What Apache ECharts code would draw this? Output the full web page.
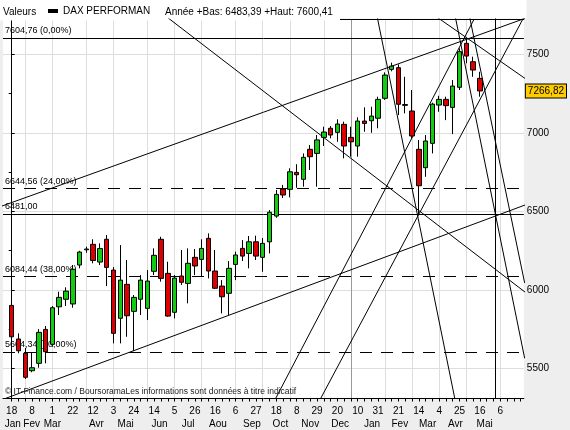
<!DOCTYPE html>
<html>
<head>
<meta charset="utf-8">
<script src="https://cdn.jsdelivr.net/npm/echarts@6/dist/echarts.min.js"></script>
<style>
html, body { margin: 0; padding: 0; background: #eeeeee; }
#chart { width: 570px; height: 430px; }
</style>
</head>
<body>
<div id="chart"></div>
<script>
// bougies hebdo, index 0 = semaine du 18 janv. 2010
const opens  = [5901, 5687, 5596, 5485, 5532, 5748, 5653, 5892, 5940, 5910,
                6158, 6255, 6290, 6177, 6322, 6126, 5819, 6035, 5863, 5940,
                5882, 6118, 6322, 6105, 5857, 6088, 6041, 6207, 6194, 6328,
                6120, 6024, 5978, 6162, 6264, 6232, 6306, 6207, 6306, 6470,
                6642, 6640, 6748, 6704, 6895, 6869, 6971, 7029, 7003, 7054,
                6971, 6916, 7075, 7077, 7093, 7220, 7404, 7415, 7180, 7139,
                6895, 6778, 6933, 7177, 7213, 7162, 7290, 7570, 7453, 7347];
const closes = [5701, 5612, 5443, 5504, 5729, 5606, 5886, 5952, 5992, 6131,
                6241, 6260, 6187, 6263, 6143, 5723, 6062, 5835, 5952, 6062,
                6056, 6220, 6073, 5833, 6075, 6048, 6169, 6152, 6264, 6120,
                6010, 5956, 6137, 6222, 6215, 6306, 6215, 6296, 6494, 6608,
                6604, 6752, 6733, 6844, 6848, 6955, 7005, 6986, 7056, 6916,
                6943, 7075, 7060, 7107, 7213, 7368, 7425, 7182, 7175, 6980,
                6663, 6948, 7183, 7213, 7173, 7298, 7517, 7489, 7400, 7266.82];
const lows   = [5680, 5596, 5432, 5475, 5504, 5532, 5638, 5840, 5897, 5886,
                6137, 6236, 6169, 6158, 6024, 5659, 5659, 5701, 5610, 5840,
                5808, 6094, 6052, 5829, 5818, 6031, 5914, 6094, 6084, 6073,
                6005, 5850, 5840, 6062, 6184, 6137, 6190, 6115, 6232, 6459,
                6585, 6589, 6650, 6657, 6763, 6657, 6916, 6965, 6943, 6838,
                6848, 6848, 7007, 7000, 7029, 7210, 7392, 7113, 7124, 6965,
                6483.39, 6720, 6869, 7134, 7081, 6992, 7273, 7443, 7357, 7230];
const highs  = [6003, 5723, 5630, 5602, 5750, 5770, 5897, 5988, 6016, 6158,
                6249, 6275, 6322, 6296, 6349, 6145, 6285, 6190, 5967, 6094,
                6126, 6264, 6338, 6179, 6094, 6254, 6264, 6260, 6322, 6360,
                6254, 6062, 6183, 6243, 6317, 6343, 6345, 6330, 6508, 6636,
                6668, 6774, 6800, 6869, 6922, 6986, 7039, 7043, 7086, 7071,
                7039, 7099, 7162, 7166, 7230, 7385, 7447, 7436, 7357, 7273,
                6954, 6986, 7192, 7236, 7230, 7336, 7538, 7600.41, 7485, 7389];

// axe des dates
const dayTicks   = [0, 3, 6, 9, 12, 15, 18, 21, 24, 27, 30, 33, 36, 39, 42, 45, 48, 51, 54, 57, 60, 63, 66, 69, 72];
const dayLabels  = ['18', '8', '1', '22', '12', '3', '24', '14', '5', '26', '16', '6', '27',
                    '18', '8', '29', '20', '10', '31', '21', '14', '4', '25', '16', '6'];
const monthPos   = [0.15, 2.95, 6, 12.5, 16.8, 21.8, 26, 30.4, 35.4, 39.6, 44, 48.4, 53.1, 57.2, 61.3, 65.4, 69.7];
const monthNames = ['Jan', 'Fev', 'Mar', 'Avr', 'Mai', 'Jun', 'Jul', 'Aou', 'Sep', 'Oct', 'Nov', 'Dec',
                    'Jan', 'Fev', 'Mar', 'Avr', 'Mai'];
const monthGrid  = [2, 6, 11, 15, 20, 24, 28, 33, 37, 41, 46, 55, 59, 63, 67, 72];
const yearGrid   = [50];
const yLabels    = [5500, 6000, 6500, 7000, 7500];
const yMinor     = [5750, 6250, 6750, 7250];

// niveaux de Fibonacci
const fibLevels = [7604.76, 6644.56, 6481.00, 6084.44, 5604.34];
const fibNames  = ['7604,76 (0,00%)', '6644,56 (24,00%)', '6481,00', '6084,44 (38,00%)', '5604,34 (50,00%)'];
const lastClose = 7266.82;

// droites tracées : [semaine1, valeur1, semaine2, valeur2]
const trendLines = [
    [-2, 6525, 77, 7750],
    [-2, 5291, 77, 6562],
    [20, 7833, 77, 5941],
    [53.5, 7816, 65.5, 5266],
    [38.5, 5275, 68.16, 7725],
    [45.3, 5289, 75.6, 7746],
    [65.2, 7776, 75.6, 5564],
    [67.3, 7777, 75.6, 6044],
    [62.5, 7742, 76, 7336],
    [71.2, 5200, 71.2, 7800]
];

const FONT = 'Liberation Sans';
const txt = { fontFamily: FONT, fontSize: 10, color: '#000' };
const kMin = -1.28, kMax = 75.48;
const vMin = 5308, vMax = 7725;

const candles = opens.map((o, i) => [i, o, closes[i], lows[i], highs[i]]);
const dashedFib = [false, true, false, true, true];
const fmtFr = v => v.toFixed(2).replace('.', ',');

const chart = echarts.init(document.getElementById('chart'));
chart.setOption({
    animation: false,
    backgroundColor: '#eeeeee',
    textStyle: { fontFamily: FONT },
    graphic: [
        { type: 'rect', z: 1, silent: true, shape: { x: 0, y: 0, width: 526.5, height: 18.5 }, style: { fill: '#fff' } },
        { type: 'rect', z: 1, silent: true, shape: { x: 0, y: 0, width: 340, height: 20.5 }, style: { fill: '#fff' } }
    ],
    title: [
        { text: 'Valeurs', left: 3, top: 7, padding: 0, textStyle: { ...txt, fontWeight: 'normal' } },
        { text: 'Année +Bas: 6483,39 +Haut: 7600,41', left: 165, top: 7, padding: 0,
          textStyle: { ...txt, fontWeight: 'normal' } },
        { text: '© IT-Finance.com / BoursoramaLes informations sont données à titre indicatif',
          left: 5, top: 387, padding: 0, textStyle: { ...txt, fontSize: 8.5, fontWeight: 'normal', color: '#222' } }
    ],
    legend: {
        left: 48, top: 6, padding: 0, itemWidth: 10, itemHeight: 4, itemGap: 4,
        textStyle: { ...txt },
        data: [{ name: 'DAX PERFORMAN', icon: 'rect', itemStyle: { color: '#000', borderWidth: 0 } }]
    },
    grid: { left: 3, right: 43.5, top: 19, bottom: 31.5, show: true, backgroundColor: '#fff', borderWidth: 0 },
    xAxis: [
        {
            type: 'value', min: kMin, max: kMax, position: 'bottom',
            axisLine: { lineStyle: { color: '#000', width: 1 } },
            axisTick: { length: 3, lineStyle: { color: '#000' },
                customValues: Array.from({ length: 76 }, (_, i) => i) },
            axisLabel: { customValues: dayTicks, margin: 8, ...txt,
                formatter: v => dayLabels[dayTicks.indexOf(v)] },
            splitLine: { show: false }
        },
        {
            type: 'value', min: kMin, max: kMax, position: 'bottom',
            axisLine: { show: false },
            axisTick: { show: false, customValues: monthGrid },
            axisLabel: { customValues: monthPos, margin: 21, ...txt,
                formatter: v => monthNames[monthPos.indexOf(v)] },
            splitLine: { show: true, lineStyle: { color: '#dddddd', width: 1 } }
        },
        {
            type: 'value', min: kMin, max: kMax, position: 'bottom',
            axisLine: { show: false }, axisLabel: { show: false },
            axisTick: { show: false, customValues: yearGrid },
            splitLine: { show: true, lineStyle: { color: '#999999', width: 1 } }
        },
        {
            type: 'value', min: kMin, max: kMax, position: 'top',
            axisLine: { show: true, lineStyle: { color: '#000' } },
            axisTick: { show: false }, axisLabel: { show: false }, splitLine: { show: false }
        }
    ],
    yAxis: [
        {
            type: 'value', min: vMin, max: vMax, position: 'right',
            axisLine: { show: true, lineStyle: { color: '#000' } },
            axisTick: { show: true, length: 3, customValues: yLabels, lineStyle: { color: '#000' } },
            axisLabel: { customValues: yLabels, margin: 3, ...txt, formatter: v => String(v) },
            splitLine: { show: true, lineStyle: { color: '#dddddd' } }
        },
        {
            type: 'value', min: vMin, max: vMax, position: 'right',
            axisLine: { show: false },
            axisTick: { show: true, inside: true, length: 3, customValues: yMinor, lineStyle: { color: '#000' } },
            axisLabel: { show: false }, splitLine: { show: false }
        },
        {
            type: 'value', min: vMin, max: vMax, position: 'right',
            axisLine: { show: false }, axisTick: { show: false }, splitLine: { show: false },
            axisLabel: { customValues: [lastClose], margin: 2, ...txt, formatter: v => fmtFr(v),
                backgroundColor: '#ffcc00', borderColor: '#000', borderWidth: 1, padding: [2, 2, 1, 2] }
        }
    ],
    series: [
        {
            name: 'DAX PERFORMAN',
            type: 'candlestick',
            dimensions: ['k', 'open', 'close', 'lowest', 'highest'],
            encode: { x: 'k', y: ['open', 'close', 'lowest', 'highest'] },
            data: candles,
            barWidth: 5,
            z: 4,
            itemStyle: { color: '#11cc11', color0: '#dd0000', borderColor: '#000', borderColor0: '#000', borderWidth: 1 },
            markLine: {
                silent: true, symbol: ['none', 'none'], z: 2,
                data: fibLevels.map((lv, i) => ({
                    yAxis: lv, name: fibNames[i],
                    lineStyle: { color: '#000', width: 1, type: dashedFib[i] ? [12, 9] : 'solid' },
                    label: { show: true, position: 'insideStartTop', formatter: '{b}', distance: [2, 3],
                             ...txt, fontSize: 9 }
                }))
            }
        },
        {
            type: 'lines',
            coordinateSystem: 'cartesian2d',
            clip: true, silent: true, z: 3,
            lineStyle: { color: '#000', width: 1, opacity: 1 },
            data: trendLines.map(l => ({ coords: [[l[0], l[1]], [l[2], l[3]]] }))
        }
    ]
});
</script>
</body>
</html>
